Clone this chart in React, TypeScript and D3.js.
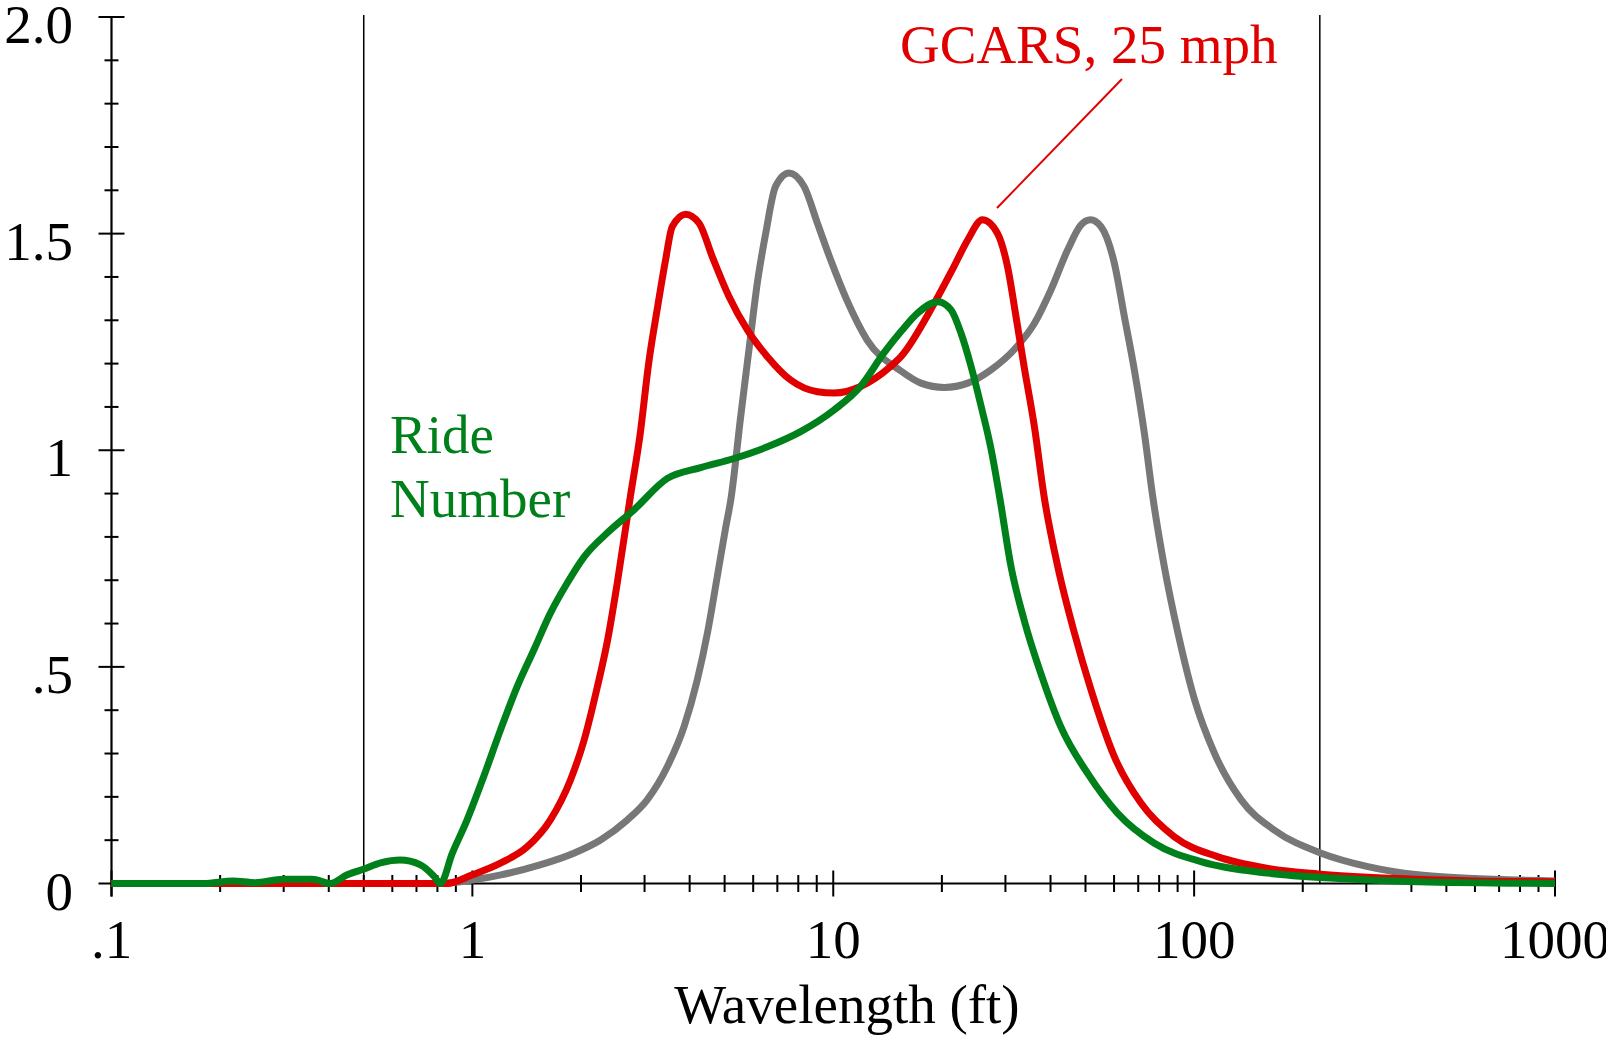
import * as d3 from "d3";

// wavelength (ft) / gain
const grayWavelength = [0.1, 0.5, 0.8, 1.0, 1.2, 1.54, 1.91, 2.26, 2.69, 3.05, 3.47, 3.86, 4.2, 4.48, 4.77, 5.04, 5.2, 5.54, 5.84, 6.16, 6.5, 6.92, 7.54, 8.3, 9.04, 9.84, 10.9, 12.4, 15.4, 17.5, 20.3, 23.6, 27.3, 31.7, 36.1, 40.1, 44.6, 48.6, 51.6, 55.2, 60.1, 64.1, 68.3, 72.8, 76.8, 82.7, 90.2, 100.3, 113.8, 135, 167, 225, 303, 417, 574, 1000];
const grayGain = [0, 0, 0, 0.008, 0.02, 0.043, 0.07, 0.1, 0.147, 0.193, 0.27, 0.362, 0.47, 0.578, 0.708, 0.824, 0.885, 1.078, 1.232, 1.386, 1.501, 1.609, 1.64, 1.609, 1.524, 1.439, 1.347, 1.255, 1.183, 1.155, 1.145, 1.155, 1.185, 1.232, 1.293, 1.37, 1.462, 1.52, 1.532, 1.516, 1.432, 1.308, 1.185, 1.039, 0.893, 0.731, 0.578, 0.424, 0.301, 0.193, 0.123, 0.07, 0.039, 0.02, 0.012, 0.006];

const gcarsWavelength = [0.1, 0.85, 1.0, 1.196, 1.42, 1.645, 1.87, 2.04, 2.22, 2.37, 2.52, 2.74, 2.92, 3.08, 3.25, 3.43, 3.58, 3.9, 4.25, 4.62, 5.14, 5.78, 6.57, 7.62, 9.04, 10.05, 11.9, 14.4, 15.4, 19.05, 21.6, 23.6, 25.9, 28.5, 30.4, 32.1, 33.8, 36.1, 38.4, 41.9, 46.6, 51.8, 60.1, 71.3, 88.1, 116, 160, 220, 352, 600, 1000];
const gcarsGain = [0, 0, 0.02, 0.047, 0.085, 0.147, 0.239, 0.331, 0.454, 0.562, 0.693, 0.893, 1.04, 1.201, 1.324, 1.439, 1.516, 1.545, 1.524, 1.447, 1.355, 1.278, 1.216, 1.162, 1.135, 1.132, 1.147, 1.193, 1.216, 1.339, 1.424, 1.486, 1.532, 1.501, 1.424, 1.308, 1.193, 1.054, 0.893, 0.731, 0.578, 0.447, 0.293, 0.185, 0.108, 0.062, 0.035, 0.022, 0.012, 0.006, 0.004];

const rideWavelength = [0.1, 0.18, 0.217, 0.25, 0.299, 0.36, 0.404, 0.45, 0.499, 0.56, 0.63, 0.718, 0.782, 0.815, 0.88, 0.967, 1.075, 1.196, 1.33, 1.48, 1.645, 1.83, 2.04, 2.37, 2.8, 3.47, 4.29, 5.31, 6.57, 8.12, 10.05, 11.9, 13.8, 15.4, 17.1, 19.5, 21.2, 22.6, 24.1, 25.7, 27.4, 28.9, 31.1, 33.8, 37.6, 42.7, 50.7, 61.4, 77.6, 105, 160, 245, 417, 1000];
const rideGain = [0, 0, 0.006, 0.002, 0.01, 0.01, 0, 0.02, 0.033, 0.048, 0.054, 0.043, 0.017, 0, 0.07, 0.147, 0.247, 0.354, 0.454, 0.539, 0.624, 0.693, 0.754, 0.81, 0.862, 0.935, 0.96, 0.981, 1.008, 1.043, 1.093, 1.147, 1.224, 1.274, 1.316, 1.343, 1.324, 1.27, 1.193, 1.101, 1.001, 0.893, 0.731, 0.608, 0.485, 0.362, 0.254, 0.162, 0.093, 0.05, 0.024, 0.012, 0.004, 0];

const xTicks = [0.1, 1, 10, 100, 1000];
const xTickLabels = [".1", "1", "10", "100", "1000"];
const yTicks = [0, 0.5, 1, 1.5, 2];
const yTickLabels = ["0", ".5", "1", "1.5", "2.0"];
const boundaryLines = [0.5, 223];

const font = "'Liberation Serif', 'Times New Roman', serif";

function App() {
	const x = d3.scaleLog().domain([0.1, 1000]).range([111.5, 1555]);
	const y = d3.scaleLinear().domain([0, 2]).range([883.5, 17]);

	const line = d3
		.line<[number, number]>()
		.x((d) => x(d[0]))
		.y((d) => y(d[1]))
		.curve(d3.curveMonotoneX);

	const series = [
		{ w: grayWavelength, v: grayGain, color: "#777777" },
		{ w: gcarsWavelength, v: gcarsGain, color: "#e00000" },
		{ w: rideWavelength, v: rideGain, color: "#00801a" },
	];

	const minorX: number[] = [];
	for (let d = 0.1; d < 1000; d *= 10) {
		for (let m = 2; m <= 9; m++) minorX.push(d * m);
	}
	const minorY: number[] = [];
	for (let i = 1; i < 20; i++) if (i % 5 !== 0) minorY.push(i / 10);

	return (
		<div style={{ position: "absolute", left: 0, top: 0 }}>
			<svg width={1606} height={1037} style={{ display: "block", background: "white" }}>
				{boundaryLines.map((b) => (
					<line key={b} x1={x(b)} x2={x(b)} y1={15} y2={y(0)} stroke="#000" strokeWidth={1.5} />
				))}

				{/* axes */}
				<line x1={x(0.1)} x2={x(0.1)} y1={y(2)} y2={y(0) + 13} stroke="#000" strokeWidth={2.2} />
				<line x1={x(0.1)} x2={x(1000)} y1={y(0)} y2={y(0)} stroke="#000" strokeWidth={2} />
				{yTicks.map((t) => (
					<line key={"ym" + t} x1={x(0.1) - 13} x2={x(0.1) + 13} y1={y(t)} y2={y(t)} stroke="#000" strokeWidth={2} />
				))}
				{minorY.map((t) => (
					<line key={"yn" + t} x1={x(0.1) - 7} x2={x(0.1) + 7} y1={y(t)} y2={y(t)} stroke="#000" strokeWidth={2} />
				))}
				{xTicks.map((t) => (
					<line key={"xm" + t} x1={x(t)} x2={x(t)} y1={y(0) - 13} y2={y(0) + 13} stroke="#000" strokeWidth={2} />
				))}
				{minorX.map((t) => (
					<line key={"xn" + t} x1={x(t)} x2={x(t)} y1={y(0) - 8.5} y2={y(0) + 8.5} stroke="#000" strokeWidth={2} />
				))}

				{yTicks.map((t, i) => (
					<text key={"yl" + t} x={73} y={y(t) + 26} textAnchor="end" fontFamily={font} fontSize={55} fill="#000">
						{yTickLabels[i]}
					</text>
				))}
				{xTicks.map((t, i) => (
					<text key={"xl" + t} x={x(t)} y={958} textAnchor="middle" fontFamily={font} fontSize={55} fill="#000">
						{xTickLabels[i]}
					</text>
				))}
				<text x={847} y={1023} textAnchor="middle" fontFamily={font} fontSize={55} fill="#000">
					Wavelength (ft)
				</text>

				{series.map((s, i) => (
					<path
						key={i}
						d={line(s.w.map((w, j) => [w, s.v[j]] as [number, number])) || ""}
						fill="none"
						stroke={s.color}
						strokeWidth={7}
						strokeLinejoin="round"
					/>
				))}

				{/* annotations */}
				<text x={900} y={63} fontFamily={font} fontSize={55} fill="#e00000">
					GCARS, 25 mph
				</text>
				<line x1={1122} y1={79} x2={997} y2={208} stroke="#e00000" strokeWidth={2} />
				<text x={390} y={453} fontFamily={font} fontSize={55} fill="#00801a">
					Ride
				</text>
				<text x={390} y={517} fontFamily={font} fontSize={55} fill="#00801a">
					Number
				</text>
			</svg>
		</div>
	);
}

export default App;
